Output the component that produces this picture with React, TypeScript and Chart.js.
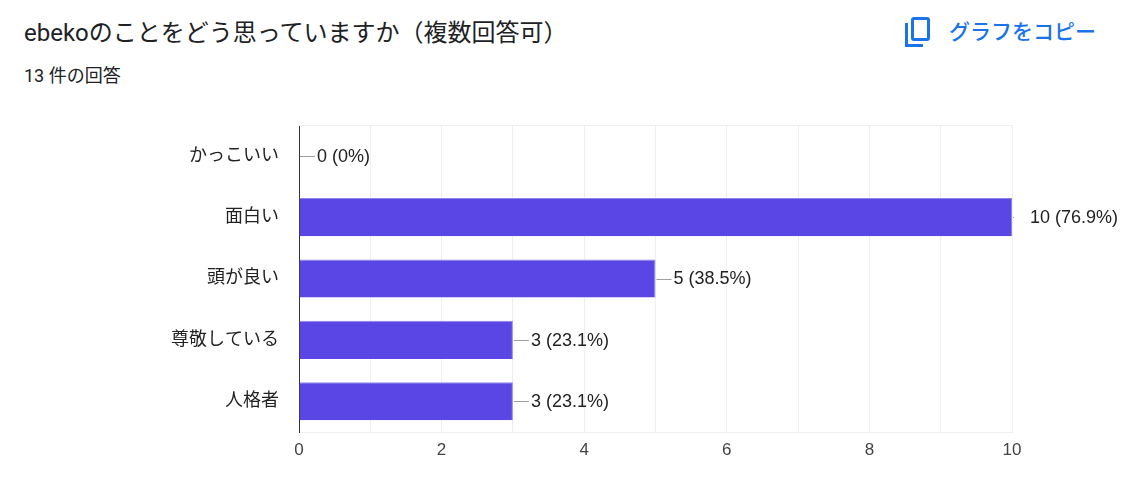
import { useEffect, useRef } from "react";
import { Chart, registerables } from "chart.js";
import type { Plugin } from "chart.js";

Chart.register(...registerables);

const categories = ["かっこいい", "面白い", "頭が良い", "尊敬している", "人格者"];
const counts = [0, 10, 5, 3, 3];
const percents = ["0%", "76.9%", "38.5%", "23.1%", "23.1%"];
const xMax = 10;

const UI_FONT = "Roboto, 'Noto Sans CJK JP', sans-serif";
const CHART_FONT = "'Liberation Sans', Arial, 'Noto Sans CJK JP', sans-serif";

const valueLabels: Plugin<"bar"> = {
  id: "valueLabels",
  afterDatasetsDraw(chart) {
    const { ctx, chartArea } = chart;
    const meta = chart.getDatasetMeta(0);
    ctx.save();
    meta.data.forEach((bar, i) => {
      const { x, y } = bar.getProps(["x", "y"], true) as { x: number; y: number };
      const lineEnd = Math.min(x + 16, chartArea.right + 2);
      ctx.strokeStyle = "#9e9e9e";
      ctx.lineWidth = 1;
      ctx.beginPath();
      ctx.moveTo(x + 1, Math.round(y) + 0.5);
      ctx.lineTo(lineEnd, Math.round(y) + 0.5);
      ctx.stroke();
      ctx.fillStyle = "#222222";
      ctx.font = `18px ${CHART_FONT}`;
      ctx.textAlign = "left";
      ctx.textBaseline = "middle";
      ctx.fillText(`${counts[i]} (${percents[i]})`, x + 18, y + 1);
    });
    // top frame line
    ctx.strokeStyle = "#eeeeee";
    ctx.beginPath();
    ctx.moveTo(chartArea.left, chartArea.top + 0.5);
    ctx.lineTo(chartArea.right, chartArea.top + 0.5);
    ctx.stroke();
    ctx.restore();
  },
};

function BarChart() {
  const canvasRef = useRef<HTMLCanvasElement | null>(null);

  useEffect(() => {
    if (!canvasRef.current) return;
    const chart = new Chart(canvasRef.current, {
      type: "bar",
      data: {
        labels: categories,
        datasets: [
          {
            data: counts,
            backgroundColor: "#5946e4",
            borderColor: "#8f84ee",
            borderWidth: { top: 1, right: 1, bottom: 0, left: 0 },
            borderSkipped: "start",
            categoryPercentage: 0.62,
            barPercentage: 1,
          },
        ],
      },
      options: {
        indexAxis: "y",
        animation: false,
        responsive: true,
        maintainAspectRatio: false,
        layout: { padding: { top: 25, right: 127, bottom: 0, left: 0 } },
        plugins: {
          legend: { display: false },
          tooltip: { enabled: false },
        },
        scales: {
          x: {
            min: 0,
            max: xMax,
            afterFit(scale) {
              scale.height = 45;
            },
            ticks: {
              stepSize: 1,
              autoSkip: false,
              maxRotation: 0,
              padding: 8,
              color: "#444444",
              font: { family: CHART_FONT, size: 17 },
              callback: (v) => (Number(v) % 2 === 0 ? String(v) : ""),
            },
            grid: { color: "#eeeeee", drawTicks: false },
            border: { color: "#eeeeee" },
          },
          y: {
            afterFit(scale) {
              scale.width = 299;
            },
            ticks: {
              padding: 0,
              color: "#222222",
              font: { family: CHART_FONT, size: 18 },
            },
            grid: { display: false, drawTicks: true, tickLength: 20 },
            border: { color: "#333333", width: 1 },
          },
        },
      },
      plugins: [valueLabels],
    });

    return () => {
      chart.destroy();
    };
  }, []);

  return (
    <div style={{ position: "absolute", left: 0, top: 100, width: 1139, height: 377 }}>
      <canvas ref={canvasRef} />
    </div>
  );
}

export default function App() {
  useEffect(() => {
    document.body.style.margin = "0";
  }, []);

  return (
    <div
      style={{
        position: "relative",
        width: 1139,
        height: 477,
        background: "#ffffff",
        fontFamily: UI_FONT,
        overflow: "hidden",
      }}
    >
      <div
        style={{
          position: "absolute",
          left: 24,
          top: 17,
          fontSize: 24,
          lineHeight: "32px",
          color: "#202124",
          whiteSpace: "nowrap",
        }}
      >
        ebekoのことをどう思っていますか（複数回答可）
      </div>
      <div
        style={{
          position: "absolute",
          left: 24,
          top: 64,
          fontSize: 18,
          lineHeight: "24px",
          color: "#202124",
          whiteSpace: "nowrap",
        }}
      >
        13 件の回答
      </div>
      <div
        style={{
          position: "absolute",
          left: 903,
          top: 16,
          display: "flex",
          alignItems: "center",
          color: "#1a73e8",
        }}
      >
        <svg width="30" height="32" viewBox="0 0 30 32">
          <rect x="9.5" y="2.5" width="16" height="21" rx="1.5" fill="none" stroke="#1a73e8" strokeWidth="3" />
          <path d="M3.5 7 V29.5 H20" fill="none" stroke="#1a73e8" strokeWidth="3" />
        </svg>
        <span
          style={{
            marginLeft: 16,
            fontSize: 21,
            fontWeight: 500,
            lineHeight: "30px",
            whiteSpace: "nowrap",
          }}
        >
          グラフをコピー
        </span>
      </div>
      <BarChart />
    </div>
  );
}
